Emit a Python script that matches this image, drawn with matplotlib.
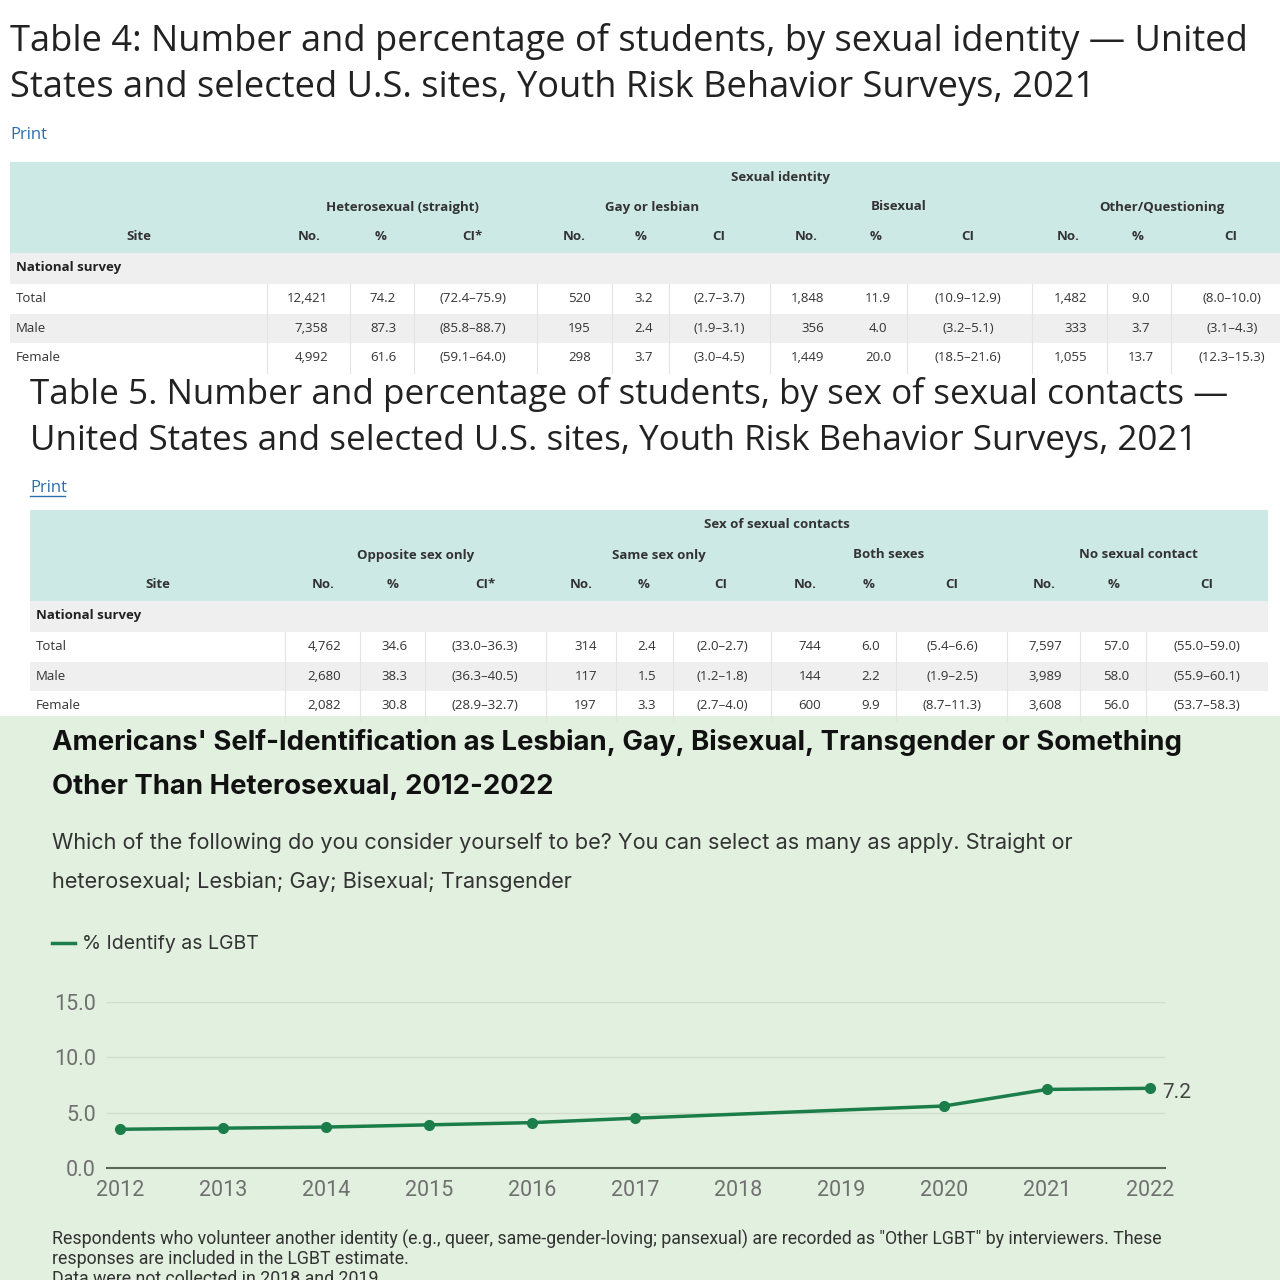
import matplotlib
matplotlib.use('Agg')
import matplotlib.pyplot as plt
from matplotlib.patches import Rectangle

# ---- Table 4 data ----
t4_title = ["Table 4: Number and percentage of students, by sexual identity \u2014 United",
            "States and selected U.S. sites, Youth Risk Behavior Surveys, 2021"]
t4_super = "Sexual identity"
t4_groups = ["Heterosexual (straight)", "Gay or lesbian", "Bisexual", "Other/Questioning"]
t4_headers = ["Site", "No.", "%", "CI*", "No.", "%", "CI", "No.", "%", "CI", "No.", "%", "CI"]
t4_sites = ["Total", "Male", "Female"]
t4_no = [["12,421", "520", "1,848", "1,482"],
         ["7,358", "195", "356", "333"],
         ["4,992", "298", "1,449", "1,055"]]
t4_pct = [["74.2", "3.2", "11.9", "9.0"],
          ["87.3", "2.4", "4.0", "3.7"],
          ["61.6", "3.7", "20.0", "13.7"]]
t4_ci = [["(72.4\u201375.9)", "(2.7\u20133.7)", "(10.9\u201312.9)", "(8.0\u201310.0)"],
         ["(85.8\u201388.7)", "(1.9\u20133.1)", "(3.2\u20135.1)", "(3.1\u20134.3)"],
         ["(59.1\u201364.0)", "(3.0\u20134.5)", "(18.5\u201321.6)", "(12.3\u201315.3)"]]

# ---- Table 5 data ----
t5_title = ["Table 5. Number and percentage of students, by sex of sexual contacts \u2014",
            "United States and selected U.S. sites, Youth Risk Behavior Surveys, 2021"]
t5_super = "Sex of sexual contacts"
t5_groups = ["Opposite sex only", "Same sex only", "Both sexes", "No sexual contact"]
t5_headers = ["Site", "No.", "%", "CI*", "No.", "%", "CI", "No.", "%", "CI", "No.", "%", "CI"]
t5_sites = ["Total", "Male", "Female"]
t5_no = [["4,762", "314", "744", "7,597"],
         ["2,680", "117", "144", "3,989"],
         ["2,082", "197", "600", "3,608"]]
t5_pct = [["34.6", "2.4", "6.0", "57.0"],
          ["38.3", "1.5", "2.2", "58.0"],
          ["30.8", "3.3", "9.9", "56.0"]]
t5_ci = [["(33.0\u201336.3)", "(2.0\u20132.7)", "(5.4\u20136.6)", "(55.0\u201359.0)"],
         ["(36.3\u201340.5)", "(1.2\u20131.8)", "(1.9\u20132.5)", "(55.9\u201360.1)"],
         ["(28.9\u201332.7)", "(2.7\u20134.0)", "(8.7\u201311.3)", "(53.7\u201358.3)"]]

# ---- Gallup chart data ----
years = [2012, 2013, 2014, 2015, 2016, 2017, 2020, 2021, 2022]
lgbt_pct = [3.5, 3.6, 3.7, 3.9, 4.1, 4.5, 5.6, 7.1, 7.2]
chart_title = ["Americans' Self-Identification as Lesbian, Gay, Bisexual, Transgender or Something",
               "Other Than Heterosexual, 2012-2022"]
chart_sub = ["Which of the following do you consider yourself to be? You can select as many as apply. Straight or",
             "heterosexual; Lesbian; Gay; Bisexual; Transgender"]
chart_notes = ["Respondents who volunteer another identity (e.g., queer, same-gender-loving; pansexual) are recorded as \"Other LGBT\" by interviewers. These",
               "responses are included in the LGBT estimate.",
               "Data were not collected in 2018 and 2019."]

TEAL = '#cde9e6'
GRAY = '#efefef'
GREEN = '#1b7d4a'
BG = '#e2f0df'
TFONT = ['Open Sans', 'DejaVu Sans']

fig = plt.figure(figsize=(12.8, 12.8), dpi=100)
bg = fig.add_axes([0, 0, 1, 1])
bg.set_xlim(0, 1280)
bg.set_ylim(1280, 0)
bg.axis('off')


def draw_table(ax, title, tsize, tx, ty, left, right, y0, super_t, groups, headers, sites,
               no, pct, ci, hx, gx, sx, no_r, pct_c, ci_c, vlines, underline):
    for i, line in enumerate(title):
        ax.text(tx, ty + i * 46, line, fontsize=tsize, family=TFONT, color='#222222', va='center')
    ax.text(tx, ty + 93, 'Print', fontsize=12, family=TFONT, color='#2a6eb0', va='center')
    if underline:
        ax.plot([tx, tx + 35], [ty + 101, ty + 101], color='#2a6eb0', lw=1)
    # header band
    ax.add_patch(Rectangle((left, y0), right - left, 91, color=TEAL, lw=0))
    ax.text(sx, y0 + 15, super_t, fontsize=9.5, family=TFONT, weight='bold', color='#333', ha='center', va='center')
    for g, x in zip(groups, gx):
        ax.text(x, y0 + 45, g, fontsize=9.5, family=TFONT, weight='bold', color='#333', ha='center', va='center')
    for h, x in zip(headers, hx):
        ax.text(x, y0 + 75, h, fontsize=9.5, family=TFONT, weight='bold', color='#333', ha='center', va='center')
    # national survey row
    ax.add_patch(Rectangle((left, y0 + 91), right - left, 31, color=GRAY, lw=0))
    ax.text(left + 6, y0 + 106, 'National survey', fontsize=9.5, family=TFONT, weight='bold', color='#222', va='center')
    for r, site in enumerate(sites):
        top = y0 + 122 + r * 29.5
        if r == 1:
            ax.add_patch(Rectangle((left, top), right - left, 29.5, color=GRAY, lw=0))
        yc = top + 14.5
        ax.text(left + 6, yc, site, fontsize=9.5, family=TFONT, color='#333', va='center')
        for c in range(4):
            ax.text(no_r[c], yc, no[r][c], fontsize=9.5, family=TFONT, color='#333', ha='right', va='center')
            ax.text(pct_c[c], yc, pct[r][c], fontsize=9.5, family=TFONT, color='#333', ha='center', va='center')
            ax.text(ci_c[c], yc, ci[r][c], fontsize=9.5, family=TFONT, color='#333', ha='center', va='center')
        for vx in vlines:
            ax.plot([vx, vx], [top, top + 29.5], color='#e4e4e4', lw=0.8)


draw_table(bg, t4_title, 26.1, 10, 42, 10, 1280, 162, t4_super, t4_groups, t4_headers, t4_sites,
           t4_no, t4_pct, t4_ci,
           hx=[139, 309, 381, 472, 574, 641, 719, 806, 876, 968, 1068, 1138, 1231],
           gx=[402, 652, 899, 1162], sx=780,
           no_r=[328, 591, 824, 1087], pct_c=[383, 644, 878, 1141], ci_c=[473, 719, 968, 1232],
           vlines=[267, 350, 414, 537, 612, 669, 770, 907, 1032, 1107, 1171], underline=False)

draw_table(bg, t5_title, 25.2, 30, 395, 30, 1268, 510, t5_super, t5_groups, t5_headers, t5_sites,
           t5_no, t5_pct, t5_ci,
           hx=[158, 323, 393, 485, 581, 644, 721, 805, 869, 952, 1044, 1114, 1207],
           gx=[416, 659, 889, 1138], sx=777,
           no_r=[341, 597, 821, 1062], pct_c=[394, 647, 871, 1116], ci_c=[485, 722, 952, 1207],
           vlines=[285, 360, 425, 546, 616, 673, 771, 896, 1007, 1080, 1146], underline=True)

# ---- Gallup section ----
bg.add_patch(Rectangle((0, 716), 1280, 564, color=BG, lw=0, zorder=0))
for i, line in enumerate(chart_title):
    bg.text(52, 743 + i * 44, line, fontsize=19.8, family=['Inter', 'DejaVu Sans'], weight='bold',
            color='#111111', va='center')
for i, line in enumerate(chart_sub):
    bg.text(52, 843 + i * 39, line, fontsize=15.6, family=['Inter', 'DejaVu Sans'],
            color='#333333', va='center')
bg.plot([52, 75], [943, 943], color=GREEN, lw=2.5)
bg.text(82, 944, '% Identify as LGBT', fontsize=14, family=['Inter', 'DejaVu Sans'],
        color='#333333', va='center')
for i, line in enumerate(chart_notes):
    bg.text(52, 1239 + i * 20, line, fontsize=12.8, family=['Roboto', 'DejaVu Sans'],
            color='#333333', va='center')

ax = fig.add_axes([107 / 1280, (1280 - 1168) / 1280, (1165 - 107) / 1280, 166 / 1280])
ax.patch.set_alpha(0)
ax.plot(years, lgbt_pct, color=GREEN, lw=2.5, marker='o', ms=7, clip_on=False, zorder=3)
ax.annotate(f'{lgbt_pct[-1]:.1f}', (years[-1], lgbt_pct[-1]), xytext=(9, -3),
            textcoords='offset points', fontsize=15, family=['Roboto', 'DejaVu Sans'],
            color='#444444', va='center')
ax.set_xlim(2011.874, 2022.146)
ax.set_ylim(0, 15)
ax.set_xticks(range(2012, 2023))
ax.set_yticks([0, 5, 10, 15])
ax.set_yticklabels([f'{v:.1f}' for v in [0, 5, 10, 15]])
ax.grid(axis='y', color='#cfdccc', lw=1)
ax.set_axisbelow(True)
for s in ['top', 'right', 'left']:
    ax.spines[s].set_visible(False)
ax.spines['bottom'].set_color('#5a6a5a')
ax.spines['bottom'].set_linewidth(1.5)
ax.tick_params(axis='both', length=0, labelsize=15.5, labelcolor='#707070')
ax.tick_params(axis='x', pad=9)
ax.tick_params(axis='y', pad=8)
for lab in ax.get_xticklabels() + ax.get_yticklabels():
    lab.set_family(['Roboto', 'DejaVu Sans'])

fig.savefig('out.png', dpi=100)
